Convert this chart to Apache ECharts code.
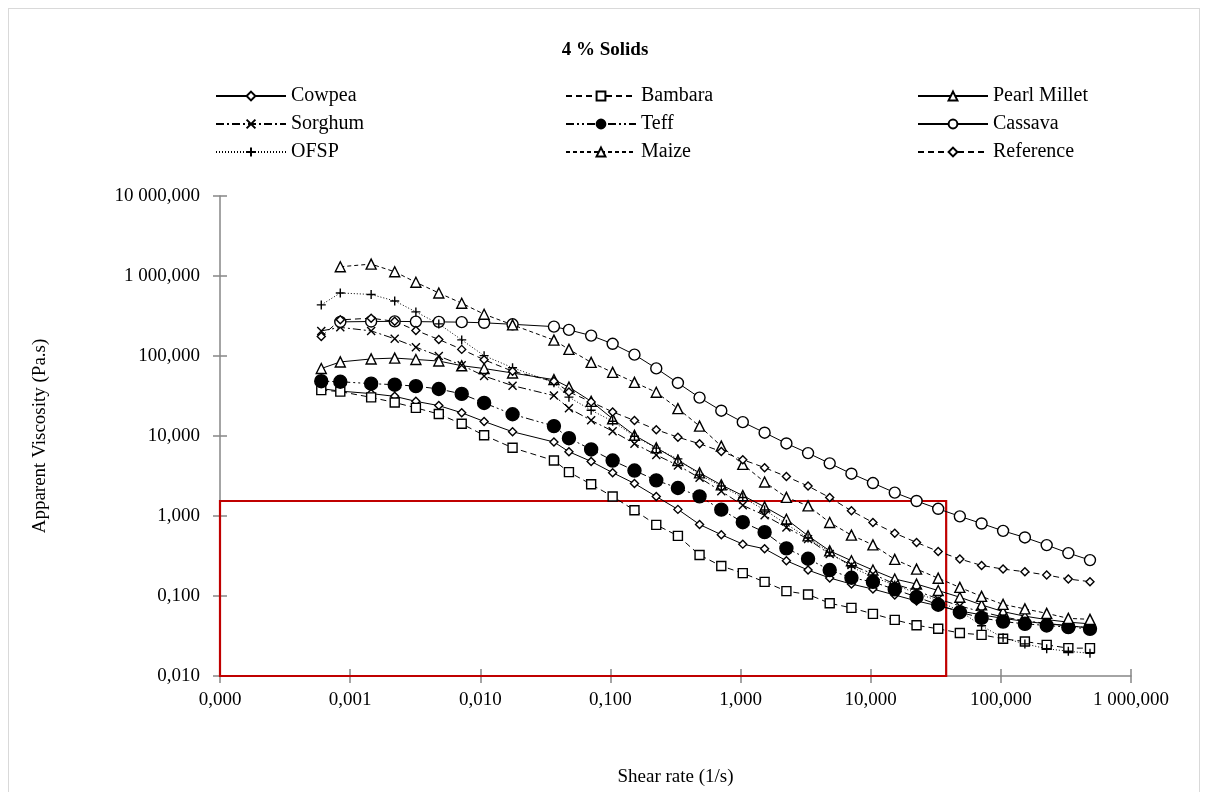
<!DOCTYPE html>
<html>
<head>
<meta charset="utf-8">
<title>4 % Solids</title>
<script src="https://cdn.jsdelivr.net/npm/echarts@6/dist/echarts.min.js"></script>
<style>
    html, body { margin: 0; padding: 0; background: #fff; }
    #frame { position: absolute; left: 8px; top: 8px; width: 1192px; height: 790px; border: 1px solid #d9d9d9; box-sizing: border-box; }
    #main { position: absolute; left: 0; top: 0; width: 1210px; height: 792px; }
</style>
</head>
<body>
<div id="frame"></div>
<div id="main"></div>
<script>
// shear rate (1/s), same for every sample
var shear = [0.0006, 0.00084, 0.00145, 0.0022, 0.0032, 0.0048, 0.0072, 0.0107, 0.0177, 0.0368, 0.048,
    0.0711, 0.104, 0.153, 0.225, 0.330, 0.484, 0.711, 1.04, 1.53, 2.25, 3.30, 4.84, 7.11, 10.4,
    15.3, 22.5, 33.0, 48.4, 71.1, 104, 153, 225, 330, 484];

// apparent viscosity (Pa.s)
var cowpea = [39.1, 36.4, 33.9, 31.3, 27.1, 24.0, 19.5, 15.2, 11.3, 8.42, 6.36,
    4.81, 3.48, 2.55, 1.75, 1.21, 0.783, 0.584, 0.445, 0.389, 0.276, 0.211, 0.168, 0.141, 0.122,
    0.103, 0.0867, 0.0752, 0.0651, 0.0581, 0.0525, 0.0482, 0.0449, 0.0424, 0.0400];
var bambara = [37.4, 35.9, 30.4, 26.2, 22.5, 18.8, 14.2, 10.2, 7.13, 4.93, 3.54,
    2.49, 1.75, 1.18, 0.774, 0.565, 0.325, 0.237, 0.193, 0.150, 0.115, 0.1045, 0.0812, 0.0710, 0.0598,
    0.0503, 0.0430, 0.0389, 0.0345, 0.0327, 0.0292, 0.0270, 0.0245, 0.0223, 0.0223];
var pearlMillet = [69.7, 84.3, 91.9, 94.2, 90.5, 86.5, 75.6, 69.7, 61.3, 50.6, 40.8,
    27.1, 16.4, 10.2, 7.13, 4.95, 3.46, 2.45, 1.80, 1.30, 0.912, 0.565, 0.367, 0.276, 0.211,
    0.163, 0.141, 0.117, 0.0965, 0.0774, 0.0638, 0.0559, 0.0507, 0.0471, 0.0449];
var sorghum = [206, 228, 206, 164, 129, 99.8, 76.7, 56.2, 42.6, 32.0, 22.2,
    15.7, 11.5, 8.02, 5.80, 4.29, 3.00, 2.04, 1.36, 1.02, 0.719, 0.514, 0.334, 0.244, 0.188,
    0.141, 0.116, 0.0919, 0.0752, 0.0633, 0.0548, 0.0489, 0.0455, 0.0424, 0.0400];
var teff = [48.4, 47.7, 45.1, 43.8, 42.0, 38.7, 33.6, 25.9, 18.7, 13.3, 9.39,
    6.79, 4.93, 3.70, 2.79, 2.24, 1.76, 1.20, 0.837, 0.628, 0.394, 0.292, 0.211, 0.169, 0.150,
    0.121, 0.0973, 0.0778, 0.0627, 0.0533, 0.0479, 0.0449, 0.0428, 0.0408, 0.0389];
var cassava = [null, 267, 270, 271, 269, 267, 265, 260, 249, 233, 212,
    180, 142, 104, 70, 46, 30.2, 20.7, 14.9, 11.0, 8.07, 6.11, 4.55, 3.38, 2.58,
    1.96, 1.54, 1.23, 0.99, 0.806, 0.652, 0.539, 0.433, 0.344, 0.281];
var ofsp = [435, 614, 588, 488, 356, 252, 159, 101, 71.4, 46.4, 30.6,
    21.0, 15.3, 9.92, 7.05, 5.17, 3.27, 2.37, 1.70, 1.19, 0.790, 0.532, 0.354, 0.230, 0.173,
    0.137, 0.109, 0.0867, 0.0651, 0.0424, 0.0300, 0.0252, 0.0219, 0.0204, 0.0192];
var maize = [null, 1305, 1409, 1130, 834, 614, 457, 333, 245, 158, 121,
    83.2, 62.4, 46.8, 35.2, 22.0, 13.3, 7.47, 4.42, 2.66, 1.71, 1.34, 0.830, 0.576, 0.436,
    0.287, 0.217, 0.167, 0.128, 0.0988, 0.0785, 0.0690, 0.0607, 0.0525, 0.0511];
var reference = [175, 283, 297, 271, 209, 161, 121, 89.7, 64.5, 48.2, 35.6,
    26.7, 20.0, 15.6, 12.0, 9.66, 8.0, 6.41, 5.06, 4.02, 3.11, 2.37, 1.70, 1.16, 0.830,
    0.610, 0.467, 0.361, 0.290, 0.241, 0.217, 0.201, 0.183, 0.163, 0.151];

// highlighted zone (red box): shear rate from / to, viscosity from / to
var boxShear = [0.0001, 38];
var boxVisc = [0.01, 1.54];

var FONT = '"Liberation Serif", "Times New Roman", serif';

function pairs(y) {
    var out = [];
    for (var i = 0; i < shear.length; i++) {
        if (y[i] != null) out.push([shear[i], y[i]]);
    }
    return out;
}

// 1 000,000 style numbers
function fmt(v) {
    var s = Number(v).toFixed(3).split('.');
    var ip = s[0].replace(/\B(?=(\d{3})+(?!\d))/g, ' ');
    return ip + ',' + s[1];
}

function makeSeries(name, y, symbol, size, dash, filled) {
    return {
        name: name,
        type: 'line',
        data: pairs(y),
        symbol: symbol,
        symbolSize: size,
        showSymbol: true,
        lineStyle: { color: '#000', width: 1, type: dash },
        itemStyle: { color: filled ? '#000' : '#fff', borderColor: '#000', borderWidth: 1.4 },
        emphasis: { disabled: true },
        z: 3
    };
}

var crossPath = 'path://M0,0L10,10M10,0L0,10';
var plusPath = 'path://M5,0L5,10M0,5L10,5';

function main() {
    var myChart = echarts.init(document.getElementById('main'));

    var series = [
        makeSeries('Cowpea', cowpea, 'diamond', 8, 'solid', false),
        makeSeries('Bambara', bambara, 'rect', 9, [6, 4], false),
        makeSeries('Pearl Millet', pearlMillet, 'triangle', 10, 'solid', false),
        makeSeries('Sorghum', sorghum, crossPath, 8, [8, 3, 2, 3], true),
        makeSeries('Teff', teff, 'circle', 13, [8, 3, 2, 3, 2, 3], true),
        makeSeries('Cassava', cassava, 'circle', 11, 'solid', false),
        makeSeries('OFSP', ofsp, plusPath, 9, [1, 2], true),
        makeSeries('Maize', maize, 'triangle', 10, [4, 3], false),
        makeSeries('Reference', reference, 'diamond', 8, [6, 4], false)
    ];

    // red box drawn in data coordinates
    series[0].markArea = {
        silent: true,
        itemStyle: { color: 'rgba(0,0,0,0)', borderColor: '#c00000', borderWidth: 2.2 },
        data: [[{ coord: [boxShear[0], boxVisc[0]] }, { coord: [boxShear[1], boxVisc[1]] }]]
    };

    var legendBase = {
        orient: 'vertical',
        top: 86,
        padding: 0,
        itemWidth: 70,
        itemHeight: 11,
        itemGap: 8,
        selectedMode: false,
        textStyle: { fontFamily: FONT, fontSize: 20, color: '#000', lineHeight: 20 }
    };

    var axisLabelY = { fontFamily: FONT, fontSize: 19, color: '#000', margin: 20, formatter: fmt };
    var axisLabelX = { fontFamily: FONT, fontSize: 19, color: '#000', margin: 15, formatter: fmt };
    var axisLine = { show: true, lineStyle: { color: '#868686', width: 1.5 } };

    var option = {
        animation: false,
        title: {
            text: '4 % Solids',
            left: 'center',
            top: 36,
            textStyle: { fontFamily: FONT, fontSize: 19, fontWeight: 'bold', color: '#000' }
        },
        legend: [
            Object.assign({}, legendBase, { left: 215, data: ['Cowpea', 'Sorghum', 'OFSP'] }),
            Object.assign({}, legendBase, { left: 565, data: ['Bambara', 'Teff', 'Maize'] }),
            Object.assign({}, legendBase, { left: 917, data: ['Pearl Millet', 'Cassava', 'Reference'] })
        ],
        grid: { left: 220, right: 79, top: 196, bottom: 115 },
        xAxis: [{
            type: 'log',
            min: 0.0001,
            max: 1000,
            logBase: 10,
            name: 'Shear rate (1/s)',
            nameLocation: 'middle',
            nameGap: 92,
            nameTextStyle: { fontFamily: FONT, fontSize: 19, color: '#000' },
            axisLine: axisLine,
            axisTick: { show: true, length: 7, lineStyle: { color: '#868686', width: 1.5 } },
            axisLabel: axisLabelX,
            splitLine: { show: false }
        }, {
            // inner half of the crossing ticks
            type: 'log', min: 0.0001, max: 1000, position: 'bottom',
            axisLine: { show: false },
            axisTick: { show: true, inside: true, length: 7, lineStyle: { color: '#868686', width: 1.5 } },
            axisLabel: { show: false },
            splitLine: { show: false }
        }],
        yAxis: [{
            type: 'log',
            min: 0.01,
            max: 10000,
            logBase: 10,
            name: 'Apparent Viscosity (Pa.s)',
            nameLocation: 'middle',
            nameGap: 170,
            nameTextStyle: { fontFamily: FONT, fontSize: 19, color: '#000' },
            axisLine: axisLine,
            axisTick: { show: true, length: 7, lineStyle: { color: '#868686', width: 1.5 } },
            axisLabel: axisLabelY,
            splitLine: { show: false }
        }, {
            type: 'log', min: 0.01, max: 10000, position: 'left',
            axisLine: { show: false },
            axisTick: { show: true, inside: true, length: 7, lineStyle: { color: '#868686', width: 1.5 } },
            axisLabel: { show: false },
            splitLine: { show: false }
        }],
        series: series
    };

    myChart.setOption(option);
}

main();
</script>
</body>
</html>
